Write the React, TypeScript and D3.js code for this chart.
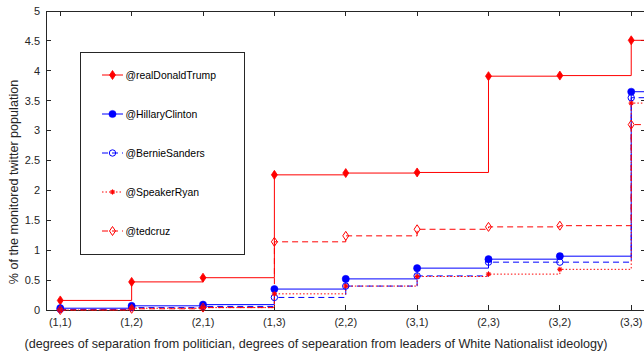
import React from "react";
import * as d3 from "d3";

const categories = ["(1,1)", "(1,2)", "(2,1)", "(1,3)", "(2,2)", "(3,1)", "(2,3)", "(3,2)", "(3,3)"];
const yTicks = [0, 0.5, 1, 1.5, 2, 2.5, 3, 3.5, 4, 4.5, 5];

const trump = [0.16, 0.47, 0.54, 2.26, 2.29, 2.3, 3.91, 3.92, 4.51];
const hillary = [0.03, 0.07, 0.09, 0.35, 0.52, 0.7, 0.85, 0.9, 3.65];
const bernie = [0.01, 0.04, 0.06, 0.21, 0.4, 0.57, 0.8, 0.8, 3.55];
const ryan = [0.0, 0.03, 0.04, 0.27, 0.4, 0.56, 0.6, 0.68, 3.46];
const cruz = [0.0, 0.02, 0.04, 1.14, 1.24, 1.35, 1.39, 1.41, 3.1];

const seriesNames = ["@realDonaldTrump", "@HillaryClinton", "@BernieSanders", "@SpeakerRyan", "@tedcruz"];

type Style = { color: string; dash: string; marker: string };
const styles: Style[] = [
  { color: "#ff0000", dash: "", marker: "diamondFilled" },
  { color: "#0000ff", dash: "", marker: "circleFilled" },
  { color: "#0000ff", dash: "6,4", marker: "circleOpen" },
  { color: "#ff0000", dash: "1.5,2", marker: "asterisk" },
  { color: "#ff0000", dash: "6,4", marker: "diamondOpen" },
];

const W = 644;
const H = 351;
const L = 46, T = 11, R = 645.5, B = 310;

function Marker({ type, x, y, color }: { type: string; x: number; y: number; color: string }) {
  if (type === "diamondFilled" || type === "diamondOpen") {
    const hw = 3, hh = 4.5;
    const d = `M${x},${y - hh}L${x + hw},${y}L${x},${y + hh}L${x - hw},${y}Z`;
    return type === "diamondFilled" ? (
      <path d={d} fill={color} stroke={color} strokeWidth={0.8} />
    ) : (
      <path d={d} fill="none" stroke={color} strokeWidth={1} />
    );
  }
  if (type === "circleFilled") return <circle cx={x} cy={y} r={3.6} fill={color} stroke={color} strokeWidth={0.5} />;
  if (type === "circleOpen") return <circle cx={x} cy={y} r={3.2} fill="none" stroke={color} strokeWidth={1} />;
  const s = 2.6;
  return (
    <g stroke={color} strokeWidth={1.1}>
      <line x1={x - s} y1={y} x2={x + s} y2={y} />
      <line x1={x} y1={y - s} x2={x} y2={y + s} />
      <line x1={x - s * 0.7} y1={y - s * 0.7} x2={x + s * 0.7} y2={y + s * 0.7} />
      <line x1={x - s * 0.7} y1={y + s * 0.7} x2={x + s * 0.7} y2={y - s * 0.7} />
    </g>
  );
}

export default function App() {
  const x = d3.scaleLinear().domain([0.8, 9.2]).range([L, R]);
  const y = d3.scaleLinear().domain([0, 5]).range([B, T]);
  const all = [trump, hillary, bernie, ryan, cruz];
  const line = d3
    .line<[number, number]>()
    .x((d) => x(d[0]))
    .y((d) => y(d[1]))
    .curve(d3.curveStepAfter);

  const font = "'Liberation Sans', Arial, Helvetica, sans-serif";
  const axisColor = "#262626";
  const tickLen = 5;

  return (
    <svg width={W} height={H} style={{ position: "absolute", left: 0, top: 0, background: "#fff" }} fontFamily={font}>
      <defs>
        <clipPath id="plotclip">
          <rect x={L} y={T - 6} width={R - L} height={B - T + 12} />
        </clipPath>
      </defs>
      <rect x={0} y={0} width={W} height={H} fill="#fff" />
      <g stroke={axisColor} strokeWidth={1} shapeRendering="crispEdges">
        <line x1={L} y1={T} x2={R} y2={T} />
        <line x1={L} y1={B} x2={R} y2={B} />
        <line x1={L} y1={T} x2={L} y2={B} />
        <line x1={R} y1={T} x2={R} y2={B} />
        {categories.map((c, i) => (
          <g key={c}>
            <line x1={x(i + 1)} y1={B} x2={x(i + 1)} y2={B - tickLen} />
            <line x1={x(i + 1)} y1={T} x2={x(i + 1)} y2={T + tickLen} />
          </g>
        ))}
        {yTicks.map((t) => (
          <g key={t}>
            <line x1={L} y1={y(t)} x2={L + tickLen} y2={y(t)} />
            <line x1={R} y1={y(t)} x2={R - tickLen} y2={y(t)} />
          </g>
        ))}
      </g>
      <g clipPath="url(#plotclip)">
        {all.map((vals, si) => {
          const pts: [number, number][] = vals.map((v, i) => [i + 1, v]);
          pts.push([10, vals[vals.length - 1]]);
          return (
            <path
              key={si}
              d={line(pts) || ""}
              fill="none"
              stroke={styles[si].color}
              strokeWidth={1}
              strokeDasharray={styles[si].dash || undefined}
            />
          );
        })}
        {all.map((vals, si) =>
          vals.map((v, i) => <Marker key={`${si}-${i}`} type={styles[si].marker} x={x(i + 1)} y={y(v)} color={styles[si].color} />)
        )}
      </g>
      <g fontSize={11} fill={axisColor}>
        {yTicks.map((t) => (
          <text key={t} x={L - 6} y={y(t)} dy="0.35em" textAnchor="end">
            {t}
          </text>
        ))}
        {categories.map((c, i) => (
          <text key={c} x={x(i + 1)} y={325.5} textAnchor="middle">
            {c}
          </text>
        ))}
      </g>
      <text x={316} y={347.5} fontSize={12.6} textAnchor="middle" fill={axisColor}>
        (degrees of separation from politician, degrees of sepearation from leaders of White Nationalist ideology)
      </text>
      <text transform="translate(17.5,182) rotate(-90)" fontSize={12.6} textAnchor="middle" fill={axisColor}>
        % of the monitored twitter population
      </text>
      <g>
        <rect x={80.5} y={52.5} width={164} height={202} fill="#fff" stroke={axisColor} strokeWidth={1} shapeRendering="crispEdges" />
        {seriesNames.map((n, i) => {
          const ly = 75 + i * 39;
          return (
            <g key={n}>
              <line x1={102} y1={ly} x2={123} y2={ly} stroke={styles[i].color} strokeWidth={1} strokeDasharray={styles[i].dash || undefined} />
              <Marker type={styles[i].marker} x={112.5} y={ly} color={styles[i].color} />
              <text x={125.5} y={ly} dy="0.35em" fontSize={10.4} fill="#000">
                {n}
              </text>
            </g>
          );
        })}
      </g>
    </svg>
  );
}
